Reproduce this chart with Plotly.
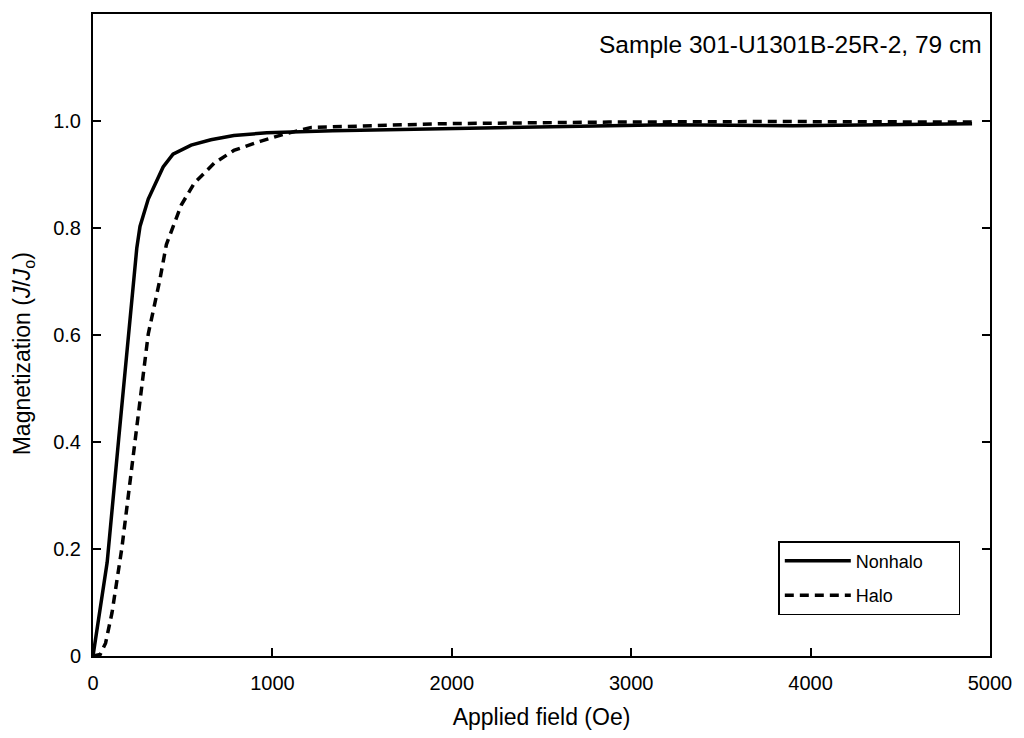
import plotly.graph_objects as go

# Nonhalo (solid)
nonhalo_field = [0, 79, 143, 198, 244, 262, 308, 391, 446, 547, 657, 785, 969, 1336, 2000, 2500, 3200, 3900, 4900]
nonhalo_mag = [0, 0.175, 0.405, 0.594, 0.762, 0.803, 0.854, 0.914, 0.938, 0.955, 0.965, 0.973, 0.978, 0.982,
               0.986, 0.988, 0.993, 0.991, 0.995]

# Halo (dashed)
halo_field = [0, 40, 70, 106, 161, 235, 308, 372, 409, 492, 565, 675, 785, 932, 1061, 1217, 1336, 1957, 2876, 3800, 4900]
halo_mag = [0, 0.003, 0.024, 0.081, 0.202, 0.401, 0.602, 0.702, 0.769, 0.843, 0.884, 0.921, 0.945, 0.962,
            0.975, 0.988, 0.989, 0.995, 0.998, 0.999, 0.998]

x_ticks = [0, 1000, 2000, 3000, 4000, 5000]
y_ticks = [0, 0.2, 0.4, 0.6, 0.8, 1.0]
y_tick_text = ["0", "0.2", "0.4", "0.6", "0.8", "1.0"]

FONT = "Liberation Sans, Arial, Helvetica, sans-serif"
PAD = "&nbsp;" * 6

fig = go.Figure()
fig.add_trace(go.Scatter(x=nonhalo_field, y=nonhalo_mag, mode="lines", name="Nonhalo" + PAD,
                         legendgroup="a", line=dict(color="black", width=3.5)))
fig.add_trace(go.Scatter(x=halo_field, y=halo_mag, mode="lines", name="Halo",
                         legendgroup="b", line=dict(color="black", width=3.5, dash="9px,6px")))

axis_common = dict(showgrid=False, zeroline=False, showline=True, linecolor="black", linewidth=2,
                   ticks="inside", ticklen=8, tickwidth=2, tickcolor="black",
                   tickfont=dict(family=FONT, size=20, color="black"))

fig.update_xaxes(range=[0, 5000], tickvals=x_ticks, mirror=True,
                 title=dict(text="Applied field (Oe)", font=dict(family=FONT, size=23, color="black"), standoff=16),
                 ticklabelstandoff=8, **axis_common)
fig.update_yaxes(range=[0, 1.2], tickvals=y_ticks, ticktext=y_tick_text, mirror="ticks",
                 ticklabelstandoff=6, **axis_common)

# y-axis title (placed slightly below the plot centre, as in the reference)
fig.add_annotation(text="Magnetization (<i>J</i>/<i>J</i><sub>o</sub>)", xref="paper", yref="paper",
                   x=-0.078, y=0.47, xanchor="center", yanchor="middle", textangle=-90, showarrow=False,
                   font=dict(family=FONT, size=23, color="black"))

fig.add_annotation(text="Sample 301-U1301B-25R-2, 79 cm", xref="paper", yref="paper",
                   x=0.993, y=0.953, xanchor="right", yanchor="middle", showarrow=False,
                   font=dict(family=FONT, size=24.5, color="black"))

fig.update_layout(
    width=1024, height=738,
    margin=dict(l=93, r=27, t=13, b=80),
    paper_bgcolor="white", plot_bgcolor="white",
    font=dict(family=FONT, color="black"),
    legend=dict(x=0.764, y=0.179, xanchor="left", yanchor="top",
                bordercolor="black", borderwidth=1.5, bgcolor="white",
                font=dict(family=FONT, size=18, color="black"),
                tracegroupgap=8, itemwidth=66),
    showlegend=True,
)

fig.write_html("out.html")
